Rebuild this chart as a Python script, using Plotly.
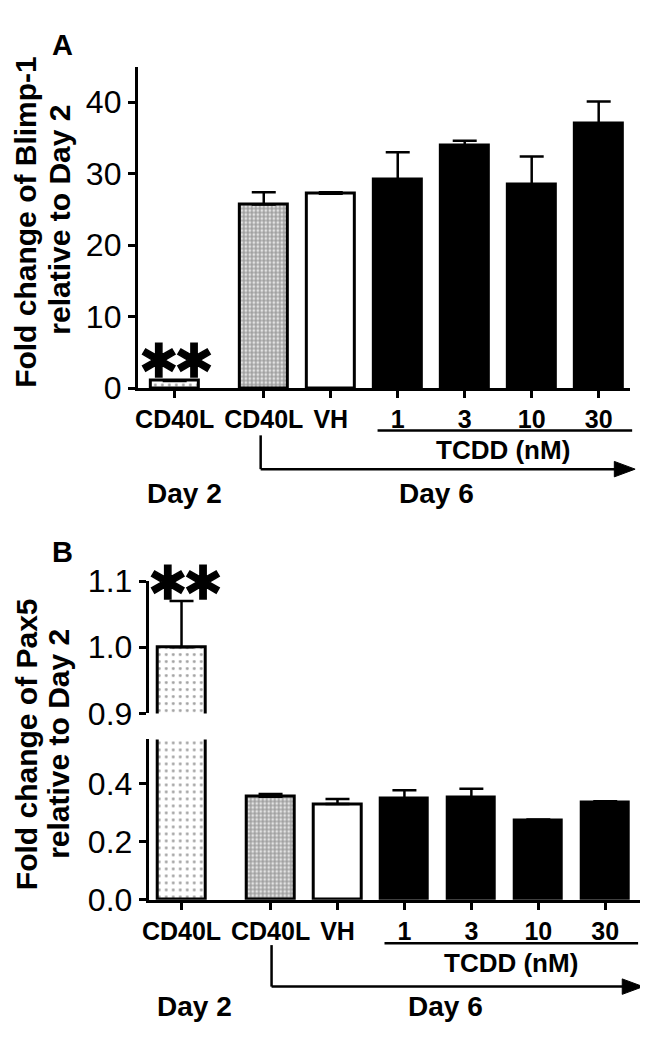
import plotly.graph_objects as go

# ---------------- data ----------------
groups = ["CD40L", "CD40L", "VH", "1", "3", "10", "30"]

blimp1_mean = [1.0, 25.7, 27.2, 29.2, 34.0, 28.5, 37.0]
blimp1_sem = [0.0, 1.7, 0.2, 3.8, 0.6, 3.9, 3.1]

pax5_mean = [1.0, 0.355, 0.330, 0.350, 0.353, 0.272, 0.337]
pax5_sem = [0.07, 0.010, 0.018, 0.028, 0.030, 0.005, 0.003]

blimp1_ticks = [0, 10, 20, 30, 40]
pax5_low_ticks = [0.0, 0.2, 0.4]
pax5_high_ticks = [0.9, 1.0, 1.1]

# ---------------- layout helpers ----------------
PAGE_W, PAGE_H = 648, 1050
OFF = 8  # default body margin of the html page
W, H = PAGE_W - OFF, PAGE_H - OFF
FONT = "Liberation Sans, Arial, sans-serif"
GAP = 1.33  # extra space between Day 2 and Day 6 groups
x_pos = [0] + [GAP + i for i in range(len(groups) - 1)]


def px(x):
    return (x - OFF) / W


def py(y):
    return 1 - (y - OFF) / H


# per-bar fill styles: dotted, checkered grey, white, black x4
bar_bg = ["white", "white", "white", "black", "black", "black", "black"]
pat_shape = [".", ".", "", "", "", "", ""]
pat_fg = ["#8a8a8a", "#111111", "black", "black", "black", "black", "black"]
pat_size = [7, 4, 8, 8, 8, 8, 8]
pat_solid = [0.14, 0.75, 0.3, 0.3, 0.3, 0.3, 0.3]


def bars(y, err, xa, ya):
    return go.Bar(
        x=x_pos, y=y, width=0.71, xaxis=xa, yaxis=ya, showlegend=False,
        marker=dict(color=bar_bg, line=dict(color="black", width=3),
                    pattern=dict(shape=pat_shape, fgcolor=pat_fg, bgcolor=bar_bg,
                                 size=pat_size, solidity=pat_solid)),
        error_y=dict(type="data", array=err, arrayminus=[0] * len(err),
                     color="black", thickness=2.5, width=12),
    )


fig = go.Figure()
fig.add_trace(bars(blimp1_mean, blimp1_sem, "x", "y"))
fig.add_trace(bars(pax5_mean, pax5_sem, "x2", "y2"))
fig.add_trace(bars(pax5_mean, pax5_sem, "x3", "y3"))

ax_common = dict(showline=True, linecolor="black", linewidth=3, ticks="outside",
                 ticklen=7, tickwidth=2.5, tickcolor="black", showgrid=False,
                 zeroline=False, fixedrange=True)
xt = dict(tickvals=x_pos, ticktext=groups,
          tickfont=dict(family=FONT, size=25, color="black", weight="bold"))
yt_font = dict(family=FONT, size=32, color="black")

fig.update_layout(
    width=W, height=H, margin=dict(l=0, r=0, t=0, b=0),
    plot_bgcolor="white", paper_bgcolor="white", bargap=0,
    xaxis=dict(domain=[px(133), px(630)], range=[-0.55, 6.8], anchor="y", **xt, **ax_common),
    yaxis=dict(domain=[py(383), py(50)], range=[0, 45], anchor="x",
               tickvals=blimp1_ticks, tickfont=yt_font, **ax_common),
    xaxis2=dict(domain=[px(144), px(642)], range=[-0.49, 6.88], anchor="y2", **xt, **ax_common),
    yaxis2=dict(domain=[py(913), py(747)], range=[0, 0.553], anchor="x2",
                tickvals=pax5_low_ticks, tickformat=".1f", tickfont=yt_font, **ax_common),
    xaxis3=dict(domain=[px(144), px(642)], range=[-0.49, 6.88], anchor="y3",
                visible=False, matches="x2"),
    yaxis3=dict(domain=[py(720), py(583)], range=[0.9, 1.1], anchor="x3",
                tickvals=pax5_high_ticks, tickformat=".1f", tickfont=yt_font, **ax_common),
)

# ---------------- text ----------------
def label(text, x, y, size, bold=True, angle=0, family=FONT):
    fig.add_annotation(text=text, x=px(x), y=py(y), xref="paper", yref="paper",
                       showarrow=False, xanchor="center", yanchor="middle",
                       textangle=angle,
                       font=dict(family=family, size=size, color="black",
                                 weight="bold" if bold else "normal"))


label("A", 57, 28, 29)
label("B", 57, 553, 29)

label("Fold change of Blimp-1", 20, 211, 30, angle=-90)
label("relative to Day 2", 53, 209, 30, angle=-90)
label("Fold change of Pax5", 20, 752, 30, angle=-90)
label("relative to Day 2", 53, 752, 30, angle=-90)

# significance stars (asterisk operator sits on the math axis, so its box stays small)
STARS = ('<span style="letter-spacing:-10px;stroke:black;stroke-width:1.5px">\u2217</span>'
         '<span style="stroke:black;stroke-width:1.5px">\u2217</span>')
label(STARS, 172, 352, 54, family="DejaVu Sans")
label(STARS, 181, 582, 54, family="DejaVu Sans")

for dy, xs in [(0, (502, 180, 435)), (532, (510, 190, 444))]:
    label("TCDD (nM)", xs[0], 447 + dy, 26)
    label("Day 2", xs[1], 492 + dy, 28)
    label("Day 6", xs[2], 492 + dy, 28)

# ---------------- brackets and arrows ----------------
def seg(x0, y0, x1, y1):
    fig.add_shape(type="line", xref="paper", yref="paper",
                  x0=px(x0), y0=py(y0), x1=px(x1), y1=py(y1),
                  line=dict(color="black", width=2.5))


def arrow(x_tail, x_head, y, length=21, half=8):
    seg(x_tail, y, x_head - length + 2, y)
    path = (f"M {px(x_head)},{py(y)} L {px(x_head - length)},{py(y - half)} "
            f"L {px(x_head - length)},{py(y + half)} Z")
    fig.add_shape(type="path", xref="paper", yref="paper", path=path,
                  fillcolor="black", line=dict(color="black", width=1))


# panel A
seg(375, 427, 632, 427)
seg(257, 432, 257, 467)
arrow(257, 635, 467)
# panel B
seg(382, 958, 638, 958)
seg(268, 960, 268, 1003)
arrow(268, 643, 1003)

fig.write_html("out.html")
